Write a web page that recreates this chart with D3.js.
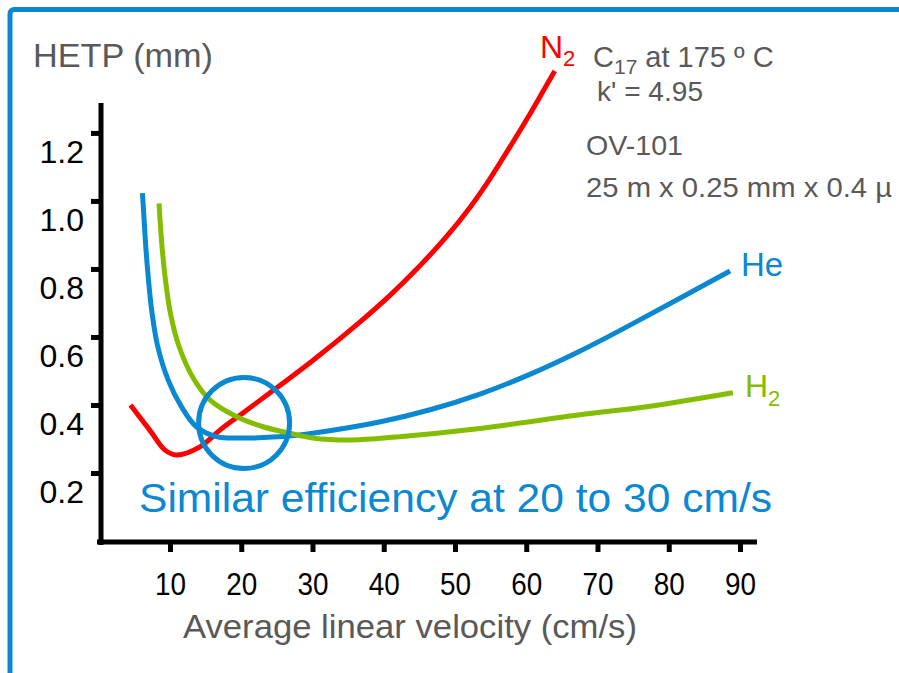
<!DOCTYPE html>
<html><head><meta charset="utf-8">
<script src="https://cdn.jsdelivr.net/npm/d3@7"></script>
<style>body{margin:0;background:#fff} svg{display:block;font-family:"Liberation Sans",Arial,sans-serif}</style>
</head><body><svg id="c" width="899" height="673"></svg>
<script>
const xTicks = [10,20,30,40,50,60,70,80,90];
const yTicks = [0.2,0.4,0.6,0.8,1.0,1.2];
const yTickLabels = ["0.2","0.4","0.6","0.8","1.0","1.2"];
const n2Velocity = [4.45,7.16,9.26,10.9,14.2,17.0,20.2,24.0,30.0,36.6,40.8,44.6,48.8,52.1,54.9,58.1,60.5,62.3,64.0];
const n2Hetp     = [0.400,0.326,0.268,0.253,0.277,0.326,0.376,0.435,0.530,0.643,0.721,0.799,0.895,0.981,1.065,1.172,1.255,1.320,1.382];
const heVelocity = [6.13,6.31,6.60,6.98,7.48,8.28,9.73,11.6,13.7,16.5,20.2,25.8,30.0,39.4,46.5,53.5,60.5,67.5,74.5,81.5,88.6];
const heHetp     = [1.023,0.964,0.866,0.768,0.670,0.572,0.474,0.395,0.336,0.307,0.303,0.307,0.317,0.350,0.386,0.432,0.490,0.558,0.634,0.713,0.794];
const h2Velocity = [8.46,8.88,9.36,10.06,11.27,13.4,15.6,19.3,23.06,26.8,30.0,35.5,41.8,53.5,67.5,76.9,89.0];
const h2Hetp     = [0.993,0.866,0.768,0.670,0.572,0.474,0.415,0.366,0.336,0.317,0.303,0.297,0.306,0.331,0.371,0.395,0.436];
const circleCenter = [20.4, 0.347];

const RED = "#ff0000", BLUE = "#0a88d2", GREEN = "#84bd00", GRAY = "#595959";
const svg = d3.select("#c");

// frame
svg.append("rect").attr("x",10).attr("y",9.5).attr("width",1000).attr("height",1000)
  .attr("rx",4).attr("fill","none").attr("stroke",BLUE).attr("stroke-width",5);

const x = d3.scaleLinear().domain([0,92.5]).range([98.75,757.8]);
const y = d3.scaleLinear().domain([0,1.288]).range([541,103]);

// y axis
const gy = svg.append("g").attr("transform","translate(101,0)")
  .call(d3.axisLeft(y).tickValues(yTicks).tickSize(10).tickSizeOuter(0)
    .tickFormat((d,i)=>yTickLabels[i]));
gy.select(".domain").attr("stroke","#000").attr("stroke-width",5).attr("d","M0,103V545");
gy.selectAll(".tick line").attr("stroke","#000").attr("stroke-width",5);
gy.selectAll(".tick text").attr("x",-17).attr("dy","0.92em").attr("font-size",32)
  .attr("font-family","Liberation Sans, Arial, sans-serif").attr("fill","#000");

// x axis
const gx = svg.append("g").attr("transform","translate(0,542)")
  .call(d3.axisBottom(x).tickValues(xTicks).tickSize(10).tickSizeOuter(0));
gx.select(".domain").attr("stroke","#000").attr("stroke-width",5).attr("d","M97,0H757");
gx.selectAll(".tick line").attr("stroke","#000").attr("stroke-width",5).attr("y1",0);
gx.selectAll(".tick text").attr("y",53).attr("dy",0).attr("font-size",32)
  .attr("textLength",31).attr("lengthAdjust","spacingAndGlyphs")
  .attr("font-family","Liberation Sans, Arial, sans-serif").attr("fill","#000");

// curves
const line = d3.line().x(d=>x(d[0])).y(d=>y(d[1])).curve(d3.curveCatmullRom.alpha(0.5));
const series = [
  {v:n2Velocity,h:n2Hetp,c:RED},
  {v:heVelocity,h:heHetp,c:BLUE},
  {v:h2Velocity,h:h2Hetp,c:GREEN}
];
series.forEach(s=>{
  svg.append("path").attr("d",line(s.v.map((v,i)=>[v,s.h[i]])))
    .attr("fill","none").attr("stroke",s.c).attr("stroke-width",5);
});

// circle
svg.append("circle").attr("cx",x(circleCenter[0])).attr("cy",y(circleCenter[1])).attr("r",45.5)
  .attr("fill","none").attr("stroke",BLUE).attr("stroke-width",5);

// texts
function txt(xp,yp,size,color,str,len){
  const t = svg.append("text").attr("x",xp).attr("y",yp).attr("font-size",size).attr("fill",color).text(str);
  if(len) t.attr("textLength",len).attr("lengthAdjust","spacingAndGlyphs");
  return t;
}
txt(33,67,33,GRAY,"HETP (mm)",180);
txt(183,638,33,GRAY,"Average linear velocity (cm/s)",454);
txt(139,512,41,BLUE,"Similar efficiency at 20 to 30 cm/s",633);

// N2 label
let t = svg.append("text").attr("x",540).attr("y",58).attr("font-size",32).attr("fill",RED);
t.append("tspan").text("N");
t.append("tspan").attr("font-size",22).attr("dy",8).text("2");
// He
txt(741,276,33,BLUE,"He");
// H2
t = svg.append("text").attr("x",745).attr("y",397).attr("font-size",32).attr("fill",GREEN);
t.append("tspan").text("H");
t.append("tspan").attr("font-size",22).attr("dy",9).text("2");

// conditions
t = svg.append("text").attr("x",593).attr("y",67).attr("font-size",29).attr("fill",GRAY);
t.append("tspan").text("C");
t.append("tspan").attr("font-size",21).attr("dy",7).text("17");
t.append("tspan").attr("dy",-7).text(" at 175 º C");
txt(597,101,28,GRAY,"k' = 4.95",106);
txt(586,155,28,GRAY,"OV-101",97);
txt(586,197,28,GRAY,"25 m x 0.25 mm x 0.4 µ",306);
</script></body></html>
